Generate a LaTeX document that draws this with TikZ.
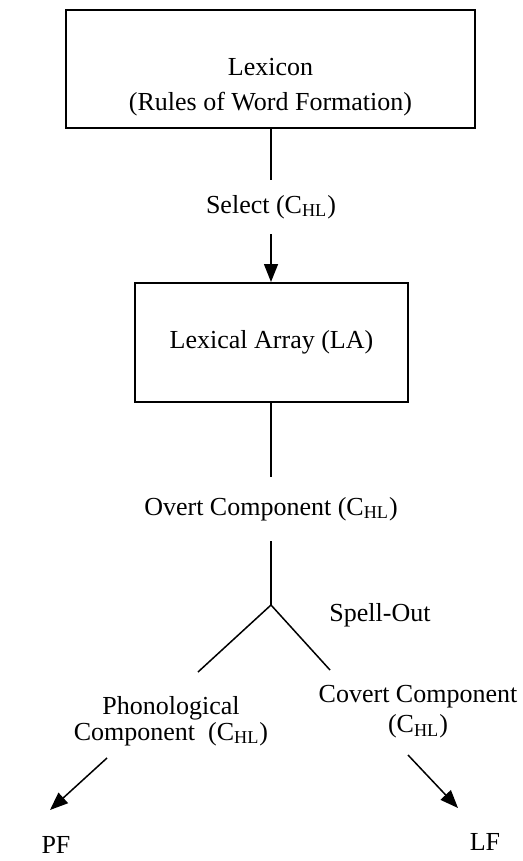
\documentclass[tikz,border=0pt]{standalone}
\usepackage{fontspec}
\setmainfont{Liberation Serif}
\usetikzlibrary{arrows.meta}

\newcommand{\chl}{(C\textsubscript{HL})}

\begin{document}
\begin{tikzpicture}[x=0.5pt, y=-0.5pt, font=\fontsize{13pt}{15pt}\selectfont,
  box/.style={draw, line width=1pt, inner sep=0pt},
  lbl/.style={inner sep=0pt, align=center},
  link/.style={line width=0.75pt},
  tip/.style={link, -{Triangle[length=9pt, width=7pt]}}]
\useasboundingbox (0,0) rectangle (523,861);

% the two boxes
\node [box, minimum width=204.5pt, minimum height=59pt] (lex) at (270.5,69) {};
\node [lbl] (lextext) at (270.5,87) {Lexicon\\[2.5pt](Rules of Word Formation)};
\node [lbl, inner ysep=7.5pt] (sel) at (271,207) {Select \chl};
\node [box, minimum width=136.5pt, minimum height=59.5pt] (la) at (271.5,342.5) {Lexical Array (LA)};

\node [lbl, inner ysep=10pt] (overt) at (271,509) {Overt Component \chl};
\coordinate (split) at (271,605);
\node [lbl] (spell) at (380,615) {Spell-Out};
\coordinate (bl) at (198,672);
\coordinate (br) at (330,670);

\node [lbl] (phon) at (171,721) {Phonological\\[-2pt]Component\ \ \chl};
\node [lbl] (covert) at (418,712) {Covert Component\\[0pt]\chl};

\coordinate (pf from) at (107,758);
\coordinate (pf to) at (50,810);
\coordinate (lf from) at (408,755);
\coordinate (lf to) at (458,808);
\node [lbl] (pf) at (56,845) {PF};
\node [lbl] (lf) at (485,842) {LF};

\draw[link] (sel |- lex.south) -- (sel);
\draw[tip] (sel) -- (sel |- la.north);
\draw[link] (overt |- la.south) -- (overt);
\draw[link] (overt) -- (split);
\draw[link] (bl) -- (split) -- (br);
\draw[tip] (pf from) -- (pf to);
\draw[tip] (lf from) -- (lf to);
\end{tikzpicture}
\end{document}
